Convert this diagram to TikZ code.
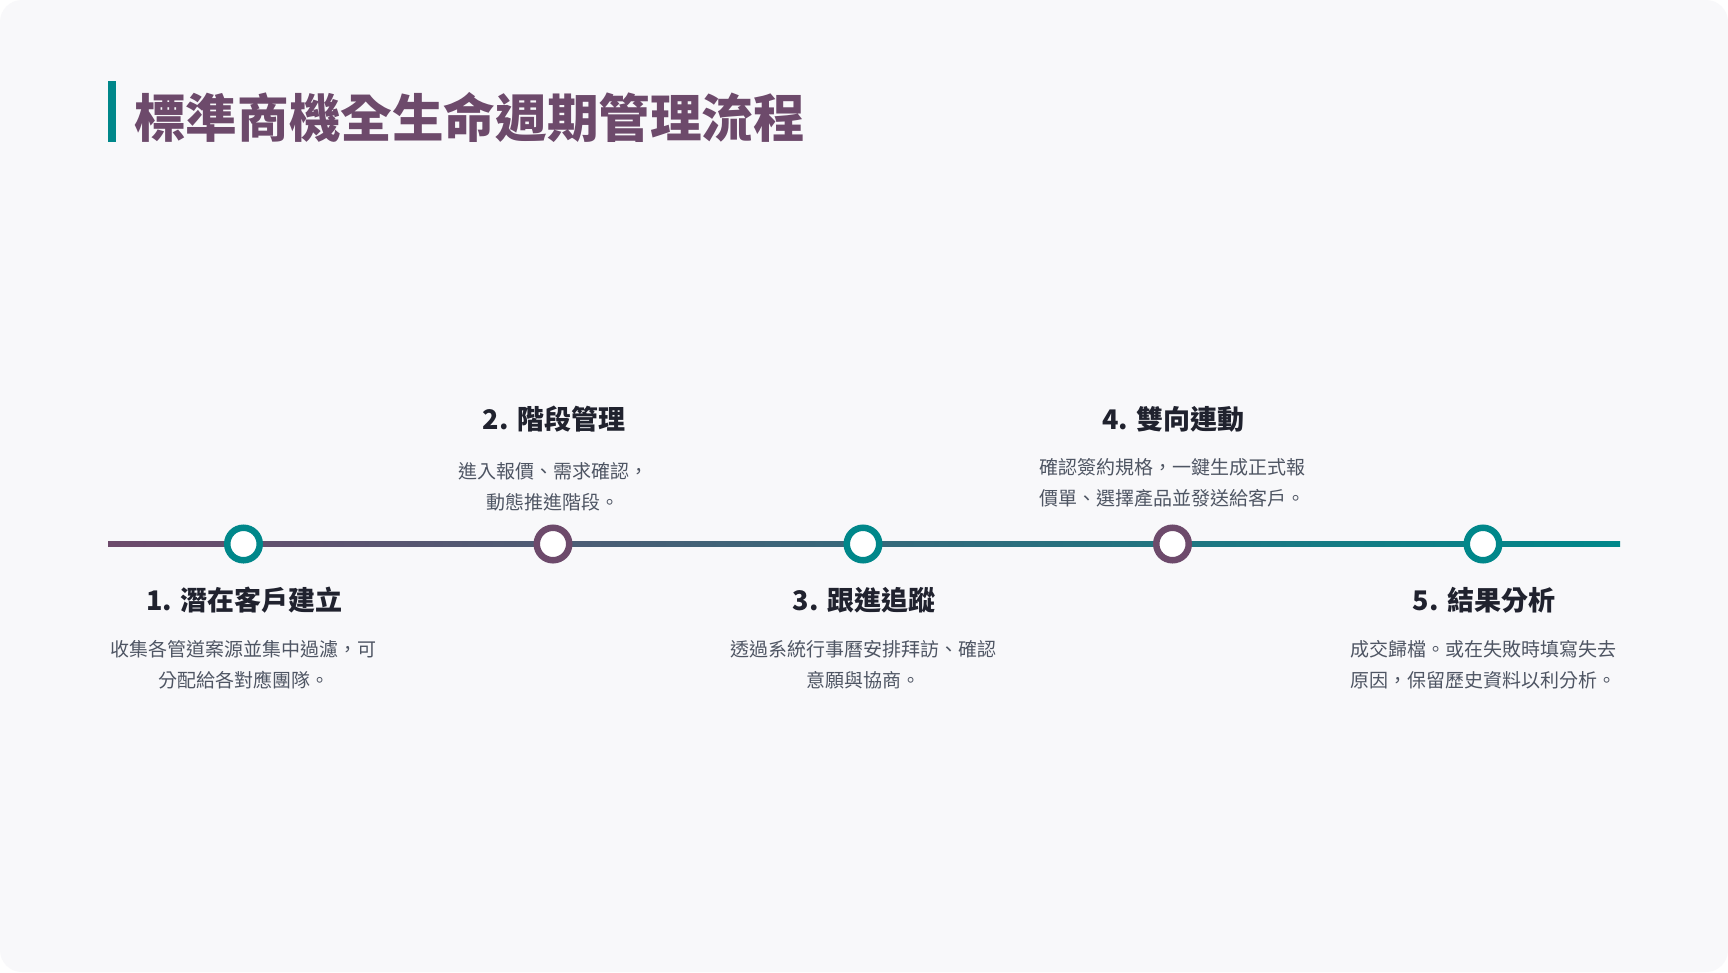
\documentclass[tikz,border=0pt]{standalone}
\usepackage{fontspec}
\setmainfont{Noto Sans CJK TC}
\definecolor{plum}{HTML}{6D4A6B}
\definecolor{tealc}{HTML}{00878A}
\definecolor{inkc}{HTML}{20222E}
\definecolor{notec}{HTML}{4E5563}
\definecolor{bgc}{HTML}{F8F8FA}
\begin{document}
\begin{tikzpicture}[x=1pt,y=-1pt,
  dot/.style={circle,draw=#1,line width=6.5pt,fill=white,minimum size=32.5pt,inner sep=0pt},
  steptitle/.style={font=\fontsize{27}{32}\selectfont\bfseries,text=inkc,inner sep=0pt},
  stepnote/.style={font=\fontsize{19}{31}\selectfont,text=notec,align=center,inner sep=0pt}]
\useasboundingbox (0,0) rectangle (1728,972);
\fill[white] (0,0) rectangle (1728,972);
\fill[bgc,rounded corners=22pt] (0,0) rectangle (1728,972);
% title
\fill[tealc] (108,81) rectangle (116,142);
\node[anchor=west,inner sep=0pt,font=\fontsize{51.6}{60}\selectfont\bfseries,text=plum] (title) at (134,117.5) {標準商機全生命週期管理流程};
% timeline
\coordinate (lineL) at (108,544);
\coordinate (lineR) at (1620,544);
\shade[left color=plum,right color=tealc] (108,541.5) rectangle (1620,546.5);
\node[dot=tealc] (c1) at (243.5,544) {};
\node[dot=plum]  (c2) at (553,544) {};
\node[dot=tealc] (c3) at (863,544) {};
\node[dot=plum]  (c4) at (1172.5,544) {};
\node[dot=tealc] (c5) at (1483,544) {};
% steps below
\node[steptitle] (t1) at (244.5,600.5) {1. 潛在客戶建立};
\node[stepnote]  (n1) at (243.5,665) {收集各管道案源並集中過濾，可\\分配給各對應團隊。};
\node[steptitle] (t3) at (864,600.5) {3. 跟進追蹤};
\node[stepnote]  (n3) at (863,665) {透過系統行事曆安排拜訪、確認\\意願與協商。};
\node[steptitle] (t5) at (1484,600.5) {5. 結果分析};
\node[stepnote]  (n5) at (1483,665) {成交歸檔。或在失敗時填寫失去\\原因，保留歷史資料以利分析。};
% steps above
\node[steptitle] (t2) at (554,419) {2. 階段管理};
\node[stepnote]  (n2) at (553,486.5) {進入報價、需求確認，\\動態推進階段。};
\node[steptitle] (t4) at (1173.5,419) {4. 雙向連動};
\node[stepnote]  (n4) at (1172.5,482.5) {確認簽約規格，一鍵生成正式報\\價單、選擇產品並發送給客戶。};
\end{tikzpicture}
\end{document}
